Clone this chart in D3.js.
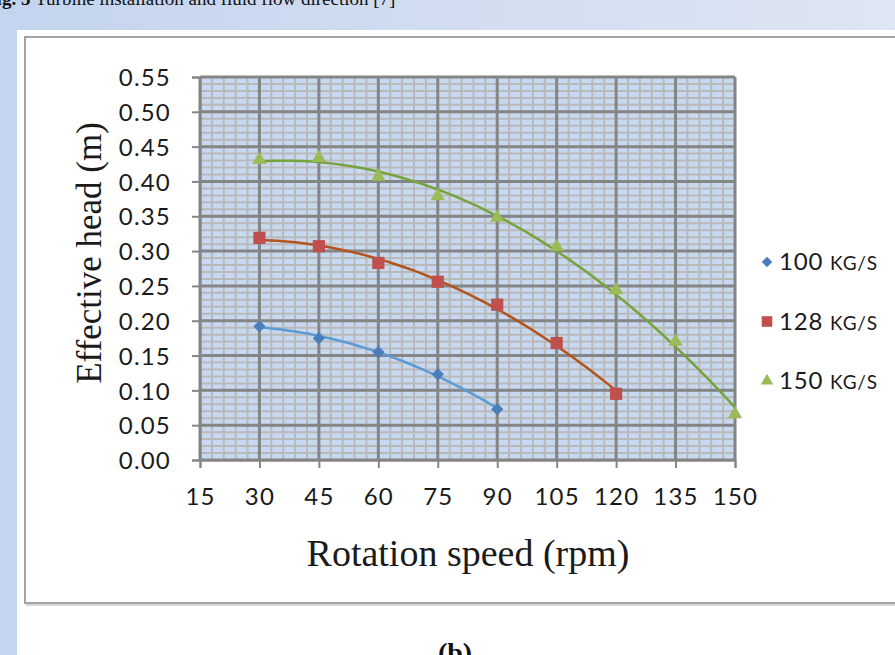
<!DOCTYPE html>
<html>
<head>
<meta charset="utf-8">
<script src="https://cdn.jsdelivr.net/npm/d3@7/dist/d3.min.js"></script>
<style>
  html, body { margin: 0; padding: 0; background: #ffffff; }
  svg { display: block; }
</style>
</head>
<body>
<svg id="chart" width="895" height="655"></svg>
<script>
// Rotation speed (rpm) at which the effective head was measured
const speeds100 = [30, 45, 60, 75, 90];
const speeds128 = [30, 45, 60, 75, 90, 105, 120];
const speeds150 = [30, 45, 60, 75, 90, 105, 120, 135, 150];

// Effective head (m) for each mass flow rate
const head100 = [0.192, 0.175, 0.155, 0.123, 0.073];
const head128 = [0.319, 0.307, 0.283, 0.256, 0.223, 0.168, 0.095];
const head150 = [0.431, 0.434, 0.407, 0.379, 0.348, 0.306, 0.244, 0.170, 0.066];

const seriesNames = ["100", "128", "150"];
const seriesUnit = "KG/S";

const xTicks = [15, 30, 45, 60, 75, 90, 105, 120, 135, 150];
const yTicks = [0, 0.05, 0.10, 0.15, 0.20, 0.25, 0.30, 0.35, 0.40, 0.45, 0.50, 0.55];

(function drawChart() {
  const W = 895, H = 655;
  const svg = d3.select("#chart");

  // page background: pale blue band with a white card
  const grad = svg.append("defs").append("linearGradient")
    .attr("id", "pageBg").attr("x1", "0").attr("x2", "1").attr("y1", "0").attr("y2", "0");
  grad.append("stop").attr("offset", "0").attr("stop-color", "#c4d4ee");
  grad.append("stop").attr("offset", "1").attr("stop-color", "#dee5f3");
  svg.append("rect").attr("width", W).attr("height", H).attr("fill", "url(#pageBg)");
  svg.append("rect").attr("x", 17).attr("y", 30).attr("width", W - 17).attr("height", H - 30).attr("fill", "#ffffff");

  // figure caption, scrolled mostly out of view
  const cap = svg.append("text")
    .attr("x", -15).attr("y", 5)
    .attr("font-family", "Liberation Serif, serif")
    .attr("font-size", 19)
    .attr("fill", "#111");
  cap.append("tspan").attr("font-weight", "bold").text("Fig. 5 ");
  cap.append("tspan").text("Turbine installation and fluid flow direction [7]");

  // chart frame
  svg.append("rect")
    .attr("x", 25).attr("y", 37).attr("width", W + 20).attr("height", 566)
    .attr("fill", "#ffffff").attr("stroke", "#a3a3a3").attr("stroke-width", 2);
  svg.append("line").attr("x1", 26).attr("x2", W).attr("y1", 605).attr("y2", 605)
    .attr("stroke", "#d6d6d6").attr("stroke-width", 2);

  // sub-figure label
  svg.append("text")
    .attr("x", 455).attr("y", 662)
    .attr("text-anchor", "middle")
    .attr("font-family", "Liberation Serif, serif")
    .attr("font-weight", "bold")
    .attr("font-size", 28)
    .attr("fill", "#111")
    .text("(b)");

  // plot area
  const pLeft = 200, pRight = 735, pTop = 77, pBottom = 460;
  const x = d3.scaleLinear().domain([15, 150]).range([pLeft, pRight]);
  const y = d3.scaleLinear().domain([0, 0.55]).range([pBottom, pTop]);

  svg.append("rect")
    .attr("x", pLeft).attr("y", pTop).attr("width", pRight - pLeft).attr("height", pBottom - pTop)
    .attr("fill", "#c6d9f1");

  const grid = svg.append("g");
  // minor grid
  grid.selectAll("line.vminor").data(d3.range(15, 150.1, 3))
    .join("line").attr("class", "vminor")
    .attr("x1", d => x(d)).attr("x2", d => x(d)).attr("y1", pTop).attr("y2", pBottom)
    .attr("stroke", "#b9b9b9").attr("stroke-width", 2);
  grid.selectAll("line.hminor").data(d3.range(0, 0.5501, 0.01))
    .join("line").attr("class", "hminor")
    .attr("x1", pLeft).attr("x2", pRight).attr("y1", d => y(d)).attr("y2", d => y(d))
    .attr("stroke", "#b9b9b9").attr("stroke-width", 2);
  // major grid
  grid.selectAll("line.vmajor").data(xTicks)
    .join("line").attr("class", "vmajor")
    .attr("x1", d => x(d)).attr("x2", d => x(d)).attr("y1", pTop).attr("y2", pBottom)
    .attr("stroke", "#858585").attr("stroke-width", 3);
  grid.selectAll("line.hmajor").data(yTicks)
    .join("line").attr("class", "hmajor")
    .attr("x1", pLeft).attr("x2", pRight).attr("y1", d => y(d)).attr("y2", d => y(d))
    .attr("stroke", "#858585").attr("stroke-width", 3);

  // axes
  const tickFont = "Lato, 'Open Sans', sans-serif";
  const xAxis = svg.append("g").attr("transform", `translate(0,${pBottom})`)
    .call(d3.axisBottom(x).tickValues(xTicks).tickSize(8).tickPadding(20).tickFormat(d3.format("d")));
  const yAxis = svg.append("g").attr("transform", `translate(${pLeft},0)`)
    .call(d3.axisLeft(y).tickValues(yTicks).tickSize(8).tickPadding(21).tickFormat(d3.format(".2f")));
  [xAxis, yAxis].forEach(a => {
    a.select(".domain").attr("stroke", "#868686").attr("stroke-width", 2);
    a.selectAll(".tick line").attr("stroke", "#868686").attr("stroke-width", 2);
    a.selectAll(".tick text").attr("font-family", tickFont).attr("font-size", 24)
      .attr("letter-spacing", 1.2).attr("fill", "#1a1a1a");
  });
  yAxis.selectAll(".tick text").attr("dy", "0.36em");

  // axis titles
  svg.append("text")
    .attr("x", 468).attr("y", 566)
    .attr("text-anchor", "middle")
    .attr("font-family", "Liberation Serif, serif")
    .attr("font-size", 38).attr("fill", "#1a1a1a")
    .text("Rotation speed (rpm)");
  svg.append("text")
    .attr("transform", "translate(101,253) rotate(-90)")
    .attr("text-anchor", "middle")
    .attr("font-family", "Liberation Serif, serif")
    .attr("font-size", 35).attr("fill", "#1a1a1a")
    .text("Effective head (m)");

  // least-squares polynomial trend line through each series
  function polyFit(xs, ys, order) {
    const n = order + 1;
    const A = Array.from({length: n}, () => new Array(n + 1).fill(0));
    xs.forEach((xv, k) => {
      for (let i = 0; i < n; i++) {
        for (let j = 0; j < n; j++) A[i][j] += Math.pow(xv, i + j);
        A[i][n] += ys[k] * Math.pow(xv, i);
      }
    });
    for (let c = 0; c < n; c++) {
      let p = c;
      for (let r = c + 1; r < n; r++) if (Math.abs(A[r][c]) > Math.abs(A[p][c])) p = r;
      [A[c], A[p]] = [A[p], A[c]];
      for (let r = 0; r < n; r++) {
        if (r === c) continue;
        const f = A[r][c] / A[c][c];
        for (let k = c; k <= n; k++) A[r][k] -= f * A[c][k];
      }
    }
    const coef = A.map((row, i) => row[n] / row[i]);
    return xv => coef.reduce((s, cf, i) => s + cf * Math.pow(xv, i), 0);
  }

  const series = [
    {xs: speeds100, ys: head100, line: "#5b9bd5", mark: "#4a7ebb", shape: d3.symbolDiamond2, size: 95},
    {xs: speeds128, ys: head128, line: "#b5531c", mark: "#c0504d", shape: d3.symbolSquare2, size: 190},
    {xs: speeds150, ys: head150, line: "#77a33c", mark: "#9bbb59", shape: d3.symbolTriangle2, size: 150}
  ];

  series.forEach(s => {
    const f = polyFit(s.xs, s.ys, 2);
    const x0 = d3.min(s.xs), x1 = d3.max(s.xs);
    const pts = d3.range(0, 61).map(i => { const xv = x0 + (x1 - x0) * i / 60; return [xv, f(xv)]; });
    svg.append("path").datum(pts)
      .attr("d", d3.line().x(d => x(d[0])).y(d => y(d[1])))
      .attr("fill", "none").attr("stroke", s.line).attr("stroke-width", 2.5);
  });
  series.forEach(s => {
    svg.append("g").selectAll("path").data(s.xs.map((xv, i) => [xv, s.ys[i]]))
      .join("path")
      .attr("transform", d => `translate(${x(d[0])},${y(d[1])})`)
      .attr("d", d3.symbol().type(s.shape).size(s.size))
      .attr("fill", s.mark);
  });

  // legend
  const legend = svg.append("g");
  series.forEach((s, i) => {
    const ly = 262 + i * 59.5;
    legend.append("path")
      .attr("transform", `translate(767,${ly})`)
      .attr("d", d3.symbol().type(s.shape).size(s.size * 0.75))
      .attr("fill", s.mark);
    const t = legend.append("text")
      .attr("x", 779).attr("y", ly + 8)
      .attr("font-family", tickFont).attr("font-size", 24)
      .attr("letter-spacing", 0.8).attr("fill", "#1a1a1a");
    t.append("tspan").text(seriesNames[i] + " ");
    t.append("tspan").attr("font-size", 19).text(seriesUnit);
  });
})();
</script>
</body>
</html>
